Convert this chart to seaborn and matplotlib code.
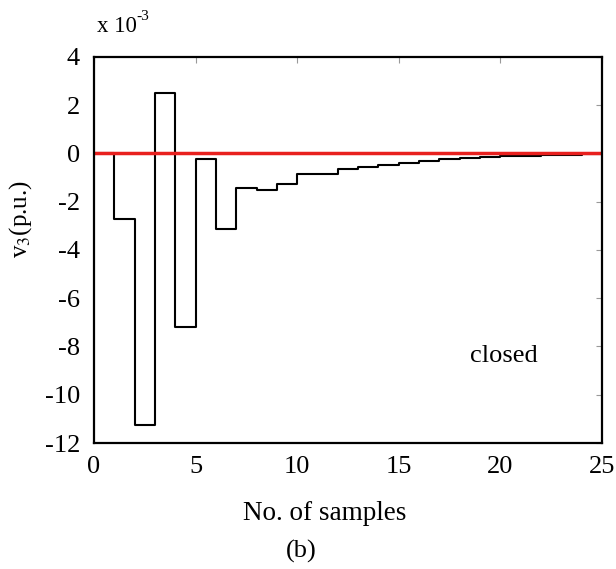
import numpy as np
import pandas as pd
import matplotlib
matplotlib.use("Agg")
import matplotlib.pyplot as plt
import seaborn as sns

# datos (valores en x 10^-3)
samples = list(range(26))
v3 = [0.0, -2.7, -11.25, 2.52, -7.2, -0.23, -3.13, -1.43, -1.5, -1.28,
      -0.87, -0.87, -0.63, -0.57, -0.48, -0.38, -0.31, -0.25, -0.19, -0.14,
      -0.1, -0.09, -0.06, -0.05, -0.03, 0.0]
ref = [0.0] * 26

df = pd.DataFrame({"k": samples, "v3": v3, "ref": ref})

sns.set_style("white")
plt.rcParams['font.family'] = ['Liberation Serif', 'DejaVu Serif']
plt.rcParams['mathtext.fontset'] = 'stix'
plt.rcParams['axes.unicode_minus'] = False
plt.rcParams['text.color'] = 'black'
plt.rcParams['xtick.labelcolor'] = 'black'
plt.rcParams['ytick.labelcolor'] = 'black'

fig = plt.figure(figsize=(6.16, 5.69), dpi=100)
ax = fig.add_axes([0.1526, 0.2214, 0.8244, 0.6786])

sns.lineplot(data=df, x="k", y="v3", drawstyle="steps-post", color="black",
             linewidth=1.5, ax=ax)
sns.lineplot(data=df, x="k", y="ref", color="#e8201e", linewidth=2.5, ax=ax)

ax.set_xlim(0, 25)
ax.set_ylim(-12, 4)
ax.set_xticks([0, 5, 10, 15, 20, 25])
ax.set_yticks([-12, -10, -8, -6, -4, -2, 0, 2, 4])
ax.tick_params(direction="in", length=4, width=0.8, color="#999999",
               labelcolor="black", top=True, right=True, labelsize=19)
ax.tick_params(axis="x", pad=9)
ax.tick_params(axis="y", pad=10)
for s in ax.spines.values():
    s.set_linewidth(1.6)
    s.set_color("black")

ax.set_xlabel("")
ax.set_ylabel("")
fig.text(0.527, 0.097, "No. of samples", ha="center", va="center", fontsize=19.5)
fig.text(0.489, 0.030, "(b)", ha="center", va="center", fontsize=19)
fig.text(0.034, 0.615, r"v$_3$(p.u.)", rotation=90, ha="center", va="center", fontsize=18)
# factor de escala "x 10^-3" (guion normal, como en el original)
fig.text(0.157, 0.944, "x 10", ha="left", va="baseline", fontsize=16.5)
fig.text(0.222, 0.964, "-3", ha="left", va="baseline", fontsize=11)
ax.text(20.2, -8.4, "closed", ha="center", va="center", fontsize=19)

fig.savefig("out.png", dpi=100)
